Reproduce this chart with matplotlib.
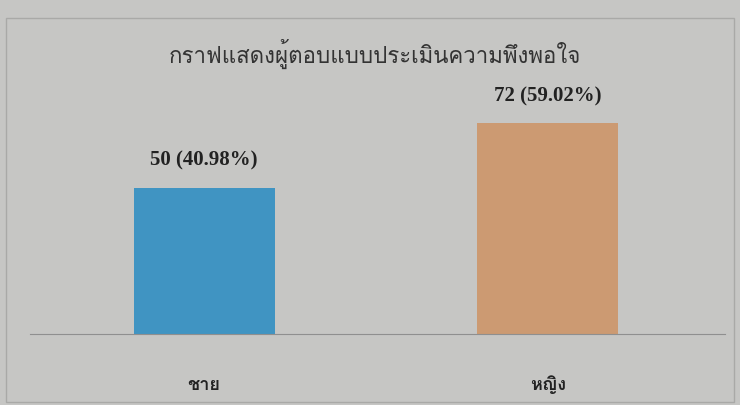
import matplotlib
matplotlib.use("Agg")
import matplotlib.pyplot as plt
from matplotlib import font_manager
from matplotlib.ft2font import FT2Font
from matplotlib.patches import Rectangle

categories = ["ชาย", "หญิง"]
values = [50, 72]
percents = [40.98, 59.02]
title = "กราฟแสดงผู้ตอบแบบประเมินความพึงพอใจ"

# find a font with Thai glyphs
thai_font = None
for f in font_manager.fontManager.ttflist:
    try:
        ft = FT2Font(f.fname)
        cm = ft.get_charmap()
        if 0x0E01 in cm and 0x0E0D in cm:
            thai_font = f.name
            break
    except Exception:
        pass
fams = ([thai_font] if thai_font else []) + ["DejaVu Sans"]

bg = "#c6c6c4"
fig = plt.figure(figsize=(7.4, 4.05), dpi=100, facecolor=bg)
ax = fig.add_axes([30/740, 71/405, 695/740, 254/405])
ax.set_facecolor(bg)

colors = ["#4094c2", "#cc9a72"]
x = [0, 1]
ax.bar(x, values, width=0.41, color=colors)
ax.set_xlim(-0.506, 1.515)
ax.set_ylim(0, 86.7)
for s in ["top", "right", "left"]:
    ax.spines[s].set_visible(False)
ax.spines["bottom"].set_color("#8f8f8f")
ax.spines["bottom"].set_linewidth(0.8)
ax.set_yticks([])
ax.set_xticks(x)
ax.set_xticklabels(categories, family=fams, fontsize=13, fontweight="bold", color="#222222")
ax.tick_params(axis="x", length=0, pad=30)

for xi, v, p in zip(x, values, percents):
    ax.annotate(f"{v} ({p:.2f}%)", (xi, v), xytext=(0, 12), textcoords="offset points",
                ha="center", va="bottom", family="Liberation Serif", fontweight="bold",
                fontsize=15, color="#222222")

fig.text(375/740, 1 - 54/405, title, family=fams, fontsize=16, ha="center", va="center",
         color="#333333")

fig.patches.append(Rectangle((6/740, 3/405), 728/740, 384/405, transform=fig.transFigure,
                             fill=False, edgecolor="#a9a9a7", linewidth=1.0))

fig.savefig("out.png", dpi=100, facecolor=bg)
